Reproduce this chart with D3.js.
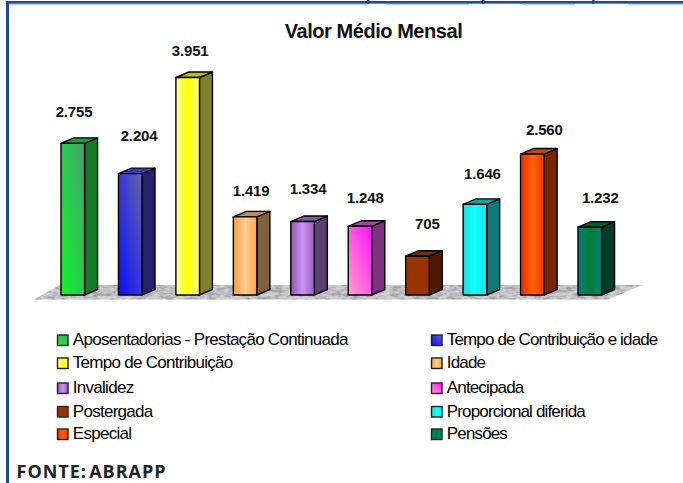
<!DOCTYPE html>
<html><head><meta charset="utf-8">
<style>html,body{margin:0;padding:0;background:#fff}svg{display:block}</style>
<script src="https://cdn.jsdelivr.net/npm/d3@7/dist/d3.min.js"></script>
</head><body><svg id="c" width="683" height="483"></svg>
<script>
const title = "Valor Médio Mensal";
const source = "FONTE: ABRAPP";
const categories = ["Aposentadorias - Prestação Continuada","Tempo de Contribuição e idade","Tempo de Contribuição","Idade","Invalidez","Antecipada","Postergada","Proporcional diferida","Especial","Pensões"];
const values = [2755,2204,3951,1419,1334,1248,705,1646,2560,1232];
const valueLabels = ["2.755","2.204","3.951","1.419","1.334","1.248","705","1.646","2.560","1.232"];
// layout offsets of labels relative to bar centre / bar top
const labelDx = [1.25,8.85,2.5,6,5.5,5.25,9.85,7.5,12,10.5];
const labelDy = [-26,-33,-22,-21,-28,-23,-27.5,-25.5,-19,-24];
// front gradient stops, gradient direction, top and side colours
const frontStops = [
 ["#10f52a","#48a070"],["#0c0cff","#6464a8"],["#ffff99","#ffff00","#ffff99"],
 ["#ff9f33","#ffcc99","#ffa640"],["#9650b8","#c896f0","#9a58c8"],["#ffa0cc","#ff10ff"],
 ["#993300","#993300"],["#14e0e0","#10ffff","#14e8e8"],["#ff2000","#ff6600","#ff3000"],
 ["#008080","#008030","#008080"]];
const diagonal = [1,1,0,0,0,1,0,0,0,0];
const topColors = ["#1f9a3c","#3a3ab8","#bdbd20","#c08a50","#8a58a8","#b040b0","#703010","#10a8a8","#c04a00","#006030"];
const sideColors = ["#137a2a","#22226f","#80802a","#80603e","#5e3f70","#80307f","#501a00","#0f7a78","#7a2400","#003d28"];
// frame details
const frameTicks = [368,483,593];
const frameShadeGaps = [[368,386],[469,522],[575,628]];

const svg = d3.select("#c");
const defs = svg.append("defs");
const baseY = 295, topY = 77.5;
const x = d3.scaleBand().domain(categories).range([43.78,618.8]).paddingInner(0.59).paddingOuter(0.3);
const y = d3.scaleLinear().domain([0,3951]).range([baseY,topY]);
const depthX = 13, depthY = 5.5;

categories.forEach((c,i)=>{
  const g = defs.append("linearGradient").attr("id","g"+i)
    .attr("x1",0).attr("y1",diagonal[i]?1:0).attr("x2",1).attr("y2",0);
  frontStops[i].forEach((s,j,a)=>g.append("stop").attr("offset",j/(a.length-1)).attr("stop-color",s));
});
const f = defs.append("filter").attr("id","marble").attr("x",0).attr("y",0).attr("width",1).attr("height",1);
f.append("feTurbulence").attr("type","fractalNoise").attr("baseFrequency","0.12 0.3").attr("numOctaves",3).attr("seed",5);
f.append("feColorMatrix").attr("type","matrix").attr("values","0 0 0 0 0.36  0 0 0 0 0.36  0 0 0 0 0.38  2.8 0 0 0 -1.05");
f.append("feComposite").attr("in2","SourceGraphic").attr("operator","in").attr("result","n");
f.append("feMerge").call(m=>{m.append("feMergeNode").attr("in","SourceGraphic");m.append("feMergeNode").attr("in","n");});

// frame
const blue="#1b4a9a";
svg.append("rect").attr("x",9).attr("y",3.5).attr("width",674).attr("height",1.5).attr("fill","#b4c8e6");
frameShadeGaps.forEach(d=>svg.append("rect").attr("x",d[0]).attr("y",3.5).attr("width",d[1]-d[0]).attr("height",1.5).attr("fill","#fff"));
svg.append("rect").attr("x",6).attr("y",1).attr("width",677).attr("height",2.6).attr("fill",blue);
frameTicks.forEach(t=>svg.append("rect").attr("x",t-1).attr("y",0).attr("width",2.5).attr("height",4).attr("fill",blue));
svg.append("rect").attr("x",6).attr("y",1).attr("width",3).attr("height",482).attr("fill",blue);

// floor
svg.append("path").attr("d",`M34,299.5L60,285H642L608,299.5Z`).attr("fill","#cfcfd3").attr("filter","url(#marble)");

// bars
const bars = svg.append("g").attr("stroke","#000").attr("stroke-width",1.4).attr("stroke-linejoin","round");
categories.forEach((c,i)=>{
  const x0=x(c), w=x.bandwidth(), t=y(values[i]);
  const g=bars.append("g");
  g.append("path").attr("d",`M${x0+w},${t}l${depthX},${-depthY}V${baseY-depthY}l${-depthX},${depthY}Z`).attr("fill",sideColors[i]);
  g.append("path").attr("d",`M${x0},${t}l${depthX},${-depthY}h${w}l${-depthX},${depthY}Z`).attr("fill",topColors[i]);
  g.append("rect").attr("x",x0).attr("y",t).attr("width",w).attr("height",baseY-t).attr("fill",`url(#g${i})`);
  svg.append("text").attr("x",x0+w/2+labelDx[i]).attr("y",t+labelDy[i])
    .attr("text-anchor","middle").attr("font-family","Liberation Sans").attr("font-weight","bold").attr("font-size",15).attr("fill","#111")
    .attr("letter-spacing",-0.15).text(valueLabels[i]);
});

// title
svg.append("text").attr("x",373.5).attr("y",37.5).attr("text-anchor","middle").attr("font-family","Liberation Sans")
  .attr("font-weight","bold").attr("font-size",20).attr("letter-spacing",-0.45).attr("fill","#111").text(title);

// legend
const legendBaseline=[345,368,393,416.5,439], legendColX=[57.5,431.5], legendSpacing=[-0.72,-0.85];
categories.forEach((c,i)=>{
  const col=i%2,row=(i-col)/2,lx=legendColX[col],by=legendBaseline[row];
  svg.append("rect").attr("x",lx).attr("y",by-10).attr("width",10.5).attr("height",10.5)
    .attr("fill",`url(#g${i})`).attr("stroke","#222").attr("stroke-width",1.4);
  svg.append("text").attr("x",lx+15.3).attr("y",by).attr("font-family","Liberation Sans").attr("font-size",17)
    .attr("letter-spacing",legendSpacing[col]).attr("fill","#000").text(c);
});
svg.append("text").attr("x",16.5).attr("y",478).attr("font-family","Open Sans").attr("font-weight",700).attr("font-size",18)
  .attr("letter-spacing",1).attr("word-spacing",-3.5).attr("fill","#222").text(source);
</script></body></html>
